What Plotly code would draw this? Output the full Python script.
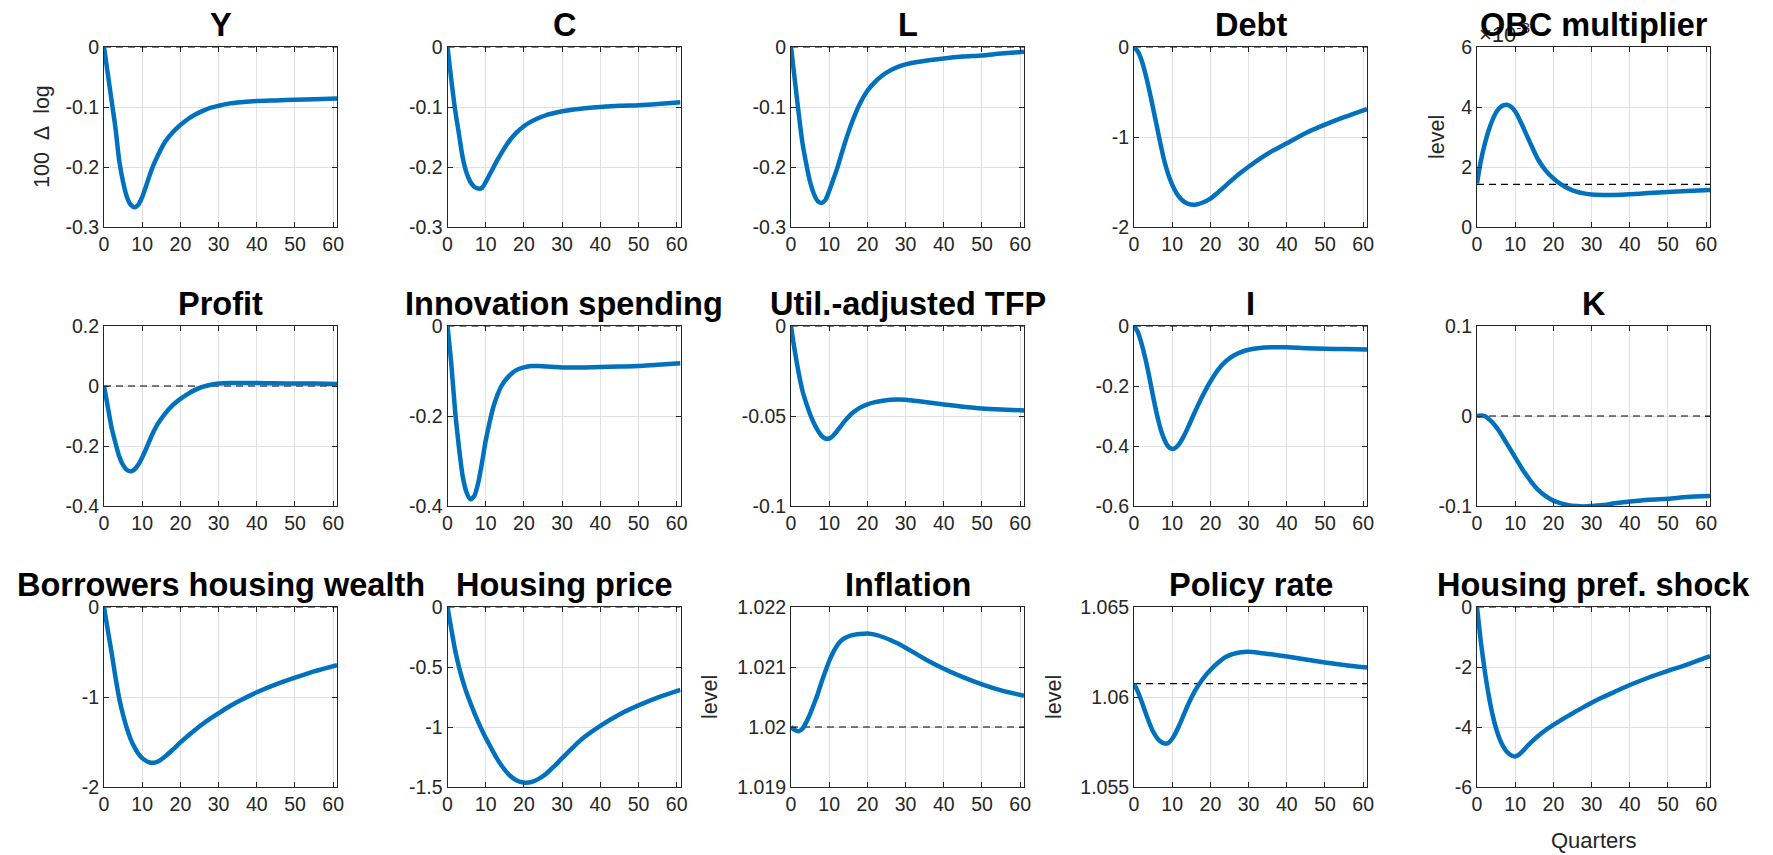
import plotly.graph_objects as go

# ---------------- data ----------------
X = [0, 1, 2, 3, 4, 5, 6, 7, 8, 9, 10, 11, 12, 13, 14, 16, 18, 20, 22, 24, 26, 28, 30, 33, 36, 40, 45, 50, 55, 61]
XTICKS = [0, 10, 20, 30, 40, 50, 60]

y_out = [0, -0.045, -0.09, -0.135, -0.19, -0.225, -0.250, -0.263, -0.267, -0.263, -0.250, -0.232, -0.213, -0.196,
         -0.182, -0.158, -0.142, -0.130, -0.120, -0.112, -0.106, -0.101, -0.098, -0.094, -0.092, -0.090, -0.089,
         -0.088, -0.087, -0.086]
cons = [0, -0.055, -0.105, -0.145, -0.185, -0.21, -0.225, -0.233, -0.236, -0.235, -0.225, -0.213, -0.201, -0.189,
        -0.178, -0.158, -0.143, -0.132, -0.124, -0.118, -0.113, -0.110, -0.107, -0.104, -0.102, -0.100, -0.098,
        -0.097, -0.095, -0.092]
labor = [0, -0.055, -0.11, -0.16, -0.195, -0.225, -0.245, -0.257, -0.260, -0.255, -0.24, -0.222, -0.204, -0.183,
         -0.162, -0.125, -0.095, -0.073, -0.058, -0.047, -0.039, -0.033, -0.029, -0.025, -0.022, -0.019, -0.016,
         -0.014, -0.011, -0.008]
debt = [0, -0.05, -0.15, -0.30, -0.48, -0.68, -0.885, -1.09, -1.275, -1.42, -1.53, -1.615, -1.675, -1.715, -1.74,
        -1.752, -1.728, -1.685, -1.615, -1.54, -1.465, -1.395, -1.33, -1.24, -1.16, -1.07, -0.955, -0.863, -0.78,
        -0.69]
obc_x1e3 = [1.45, 2.2, 2.75, 3.2, 3.55, 3.82, 3.98, 4.06, 4.07, 4.0, 3.85, 3.62, 3.35, 3.06, 2.78, 2.25, 1.88,
            1.62, 1.42, 1.28, 1.18, 1.12, 1.08, 1.07, 1.07, 1.09, 1.13, 1.17, 1.20, 1.23]
profit = [0, -0.07, -0.14, -0.19, -0.235, -0.264, -0.28, -0.284, -0.278, -0.262, -0.238, -0.21, -0.18, -0.152,
          -0.128, -0.092, -0.064, -0.043, -0.026, -0.012, -0.002, 0.004, 0.008, 0.010, 0.010, 0.010, 0.009,
          0.008, 0.008, 0.007]
innov = [0, -0.085, -0.19, -0.27, -0.335, -0.37, -0.385, -0.378, -0.35, -0.305, -0.255, -0.215, -0.18, -0.155,
         -0.135, -0.112, -0.098, -0.092, -0.089, -0.089, -0.090, -0.091, -0.092, -0.092, -0.092, -0.091, -0.090,
         -0.089, -0.086, -0.083]
tfp = [0, -0.014, -0.026, -0.036, -0.043, -0.049, -0.054, -0.058, -0.061, -0.0625, -0.0625, -0.061, -0.0585,
       -0.0558, -0.053, -0.0485, -0.0455, -0.0435, -0.0423, -0.0415, -0.041, -0.0408, -0.041, -0.0417, -0.0425,
       -0.0436, -0.0448, -0.0458, -0.0464, -0.0469]
invest = [0, -0.02, -0.06, -0.11, -0.17, -0.235, -0.295, -0.345, -0.38, -0.402, -0.41, -0.405, -0.39, -0.368,
          -0.342, -0.285, -0.232, -0.185, -0.146, -0.118, -0.099, -0.087, -0.079, -0.073, -0.071, -0.071, -0.074,
          -0.076, -0.077, -0.078]
capital = [0.0, 0.0005, 0.0, -0.003, -0.007, -0.012, -0.018, -0.025, -0.032, -0.039, -0.046, -0.053, -0.060,
           -0.066, -0.072, -0.082, -0.089, -0.094, -0.097, -0.099, -0.100, -0.1005, -0.100, -0.099, -0.097,
           -0.095, -0.093, -0.092, -0.090, -0.089]
bhw = [0, -0.26, -0.51, -0.78, -1.02, -1.2, -1.35, -1.47, -1.56, -1.63, -1.68, -1.71, -1.728, -1.73, -1.72,
       -1.66, -1.585, -1.505, -1.43, -1.36, -1.295, -1.235, -1.18, -1.10, -1.03, -0.948, -0.86, -0.785, -0.715,
       -0.645]
hprice = [0, -0.185, -0.36, -0.50, -0.615, -0.715, -0.80, -0.88, -0.955, -1.025, -1.09, -1.15, -1.21, -1.265,
          -1.315, -1.395, -1.443, -1.463, -1.458, -1.43, -1.385, -1.325, -1.26, -1.165, -1.08, -0.99, -0.895,
          -0.82, -0.755, -0.69]
inflation = [1.02000, 1.01995, 1.01993, 1.01997, 1.02008, 1.02022, 1.02038, 1.02055, 1.02075, 1.02093, 1.02110,
             1.02124, 1.02135, 1.02143, 1.02148, 1.02153, 1.02155, 1.02156, 1.02154, 1.02150, 1.02145, 1.02139,
             1.02132, 1.02121, 1.02110, 1.02097, 1.02083, 1.02071, 1.02061, 1.02052]
policy = [1.06074, 1.06030, 1.05975, 1.05915, 1.05857, 1.05808, 1.05773, 1.05752, 1.05742, 1.05745, 1.05768,
          1.05805, 1.05850, 1.05900, 1.05950, 1.06035, 1.06100, 1.06150, 1.06190, 1.06222, 1.06240, 1.06249,
          1.06251, 1.06245, 1.06237, 1.06225, 1.06208, 1.06192, 1.06178, 1.06164]
hpshock = [0, -1.15, -2.1, -2.9, -3.55, -4.05, -4.42, -4.68, -4.85, -4.95, -4.98, -4.92, -4.8, -4.66, -4.53,
           -4.3, -4.1, -3.93, -3.77, -3.62, -3.47, -3.33, -3.19, -3.0, -2.83, -2.6, -2.35, -2.13, -1.92, -1.64]

titles = ["Y", "C", "L", "Debt", "OBC multiplier",
          "Profit", "Innovation spending", "Util.-adjusted TFP", "I", "K",
          "Borrowers housing wealth", "Housing price", "Inflation", "Policy rate", "Housing pref. shock"]
series = [y_out, cons, labor, debt, obc_x1e3,
          profit, innov, tfp, invest, capital,
          bhw, hprice, inflation, policy, hpshock]
steady = [0, 0, 0, 0, 1.42,
          0, 0, 0, 0, 0,
          0, 0, 1.020, 1.06074, 0]
yranges = [[-0.3, 0], [-0.3, 0], [-0.3, 0], [-2, 0], [0, 6],
           [-0.4, 0.2], [-0.4, 0], [-0.1, 0], [-0.6, 0], [-0.1, 0.1],
           [-2, 0], [-1.5, 0], [1.019, 1.022], [1.055, 1.065], [-6, 0]]
yticks = [[-0.3, -0.2, -0.1, 0], [-0.3, -0.2, -0.1, 0], [-0.3, -0.2, -0.1, 0], [-2, -1, 0], [0, 2, 4, 6],
          [-0.4, -0.2, 0, 0.2], [-0.4, -0.2, 0], [-0.1, -0.05, 0], [-0.6, -0.4, -0.2, 0], [-0.1, 0, 0.1],
          [-2, -1, 0], [-1.5, -1, -0.5, 0], [1.019, 1.020, 1.021, 1.022], [1.055, 1.060, 1.065], [-6, -4, -2, 0]]

# ---------------- layout geometry ----------------
# page body has an 8px default margin; the figure fills the rest of the 1773x855 window
OFF = 8
FW, FH = 1773 - OFF, 855 - OFF


def fx(px):
    return (px - OFF) / FW


def fy(py):
    return 1 - (py - OFF) / FH


col_left = [104, 447.5, 791, 1134, 1477]
row_top = [47, 326, 607]
PW, PH = 233, 180
FONT = "Liberation Sans, Arial, Helvetica, sans-serif"
AX = "#262626"
GRID = "#e0e0e0"
BLUE = "#0072BD"

fig = go.Figure()
layout = dict(width=FW, height=FH, autosize=False, margin=dict(l=0, r=0, t=0, b=0, pad=0),
              paper_bgcolor="white", plot_bgcolor="white", showlegend=False,
              font=dict(family=FONT, size=19, color=AX))
annotations = []

# x10^-3 exponent label of OBC panel (under the title)
annotations.append(dict(x=fx(1477), y=fy(33), xref="paper", yref="paper", xanchor="left", yanchor="middle",
                        text="×10<sup>-3</sup>", showarrow=False, font=dict(family=FONT, size=22, color=AX)))

for i in range(15):
    r, c = divmod(i, 5)
    n = i + 1
    xa = "x" if n == 1 else f"x{n}"
    ya = "y" if n == 1 else f"y{n}"
    l = col_left[c]
    t = row_top[r]
    fig.add_trace(go.Scatter(x=[X[0], X[-1]], y=[steady[i], steady[i]], mode="lines",
                             line=dict(color="black", width=1.2, dash="7px,5px"),
                             xaxis=xa, yaxis=ya, hoverinfo="skip"))
    fig.add_trace(go.Scatter(x=X, y=series[i], mode="lines",
                             line=dict(color=BLUE, width=4.5, shape="spline", smoothing=0.7),
                             xaxis=xa, yaxis=ya))
    common = dict(showline=True, linecolor=AX, linewidth=1, mirror="ticks", ticks="inside", ticklen=5,
                  tickcolor=AX, showgrid=True, gridcolor=GRID, gridwidth=1, zeroline=False, automargin=False,
                  tickfont=dict(family=FONT, size=19.5, color=AX), fixedrange=True)
    layout[f"xaxis{n}"] = dict(domain=[fx(l), fx(l + PW)], anchor=ya, range=[0, 61],
                               tickvals=XTICKS, ticktext=[str(v) for v in XTICKS], **common)
    layout[f"yaxis{n}"] = dict(domain=[fy(t + PH), fy(t)], anchor=xa, range=yranges[i],
                               tickvals=yticks[i], ticktext=[f"{v:g}" for v in yticks[i]], **common)
    annotations.append(dict(x=fx(l + PW / 2), y=fy(t - 22), xref="paper", yref="paper",
                            xanchor="center", yanchor="middle", text=f"<b>{titles[i]}</b>",
                            showarrow=False, font=dict(family=FONT, size=32.5, color="black")))

# axis labels
ylabels = [("100&nbsp;&nbsp;Δ&nbsp;&nbsp;log", 42, 137), ("level", 1437, 137), ("level", 710, 697),
           ("level", 1054, 697)]
for txt, px, py in ylabels:
    annotations.append(dict(x=fx(px), y=fy(py), xref="paper", yref="paper", xanchor="center",
                            yanchor="middle", text=txt, textangle=-90, showarrow=False,
                            font=dict(family=FONT, size=21.5, color=AX)))
annotations.append(dict(x=fx(1594), y=fy(840), xref="paper", yref="paper", xanchor="center",
                        yanchor="middle", text="Quarters", showarrow=False,
                        font=dict(family=FONT, size=22, color=AX)))

layout["annotations"] = annotations
fig.update_layout(**layout)
fig.write_html("out.html")
